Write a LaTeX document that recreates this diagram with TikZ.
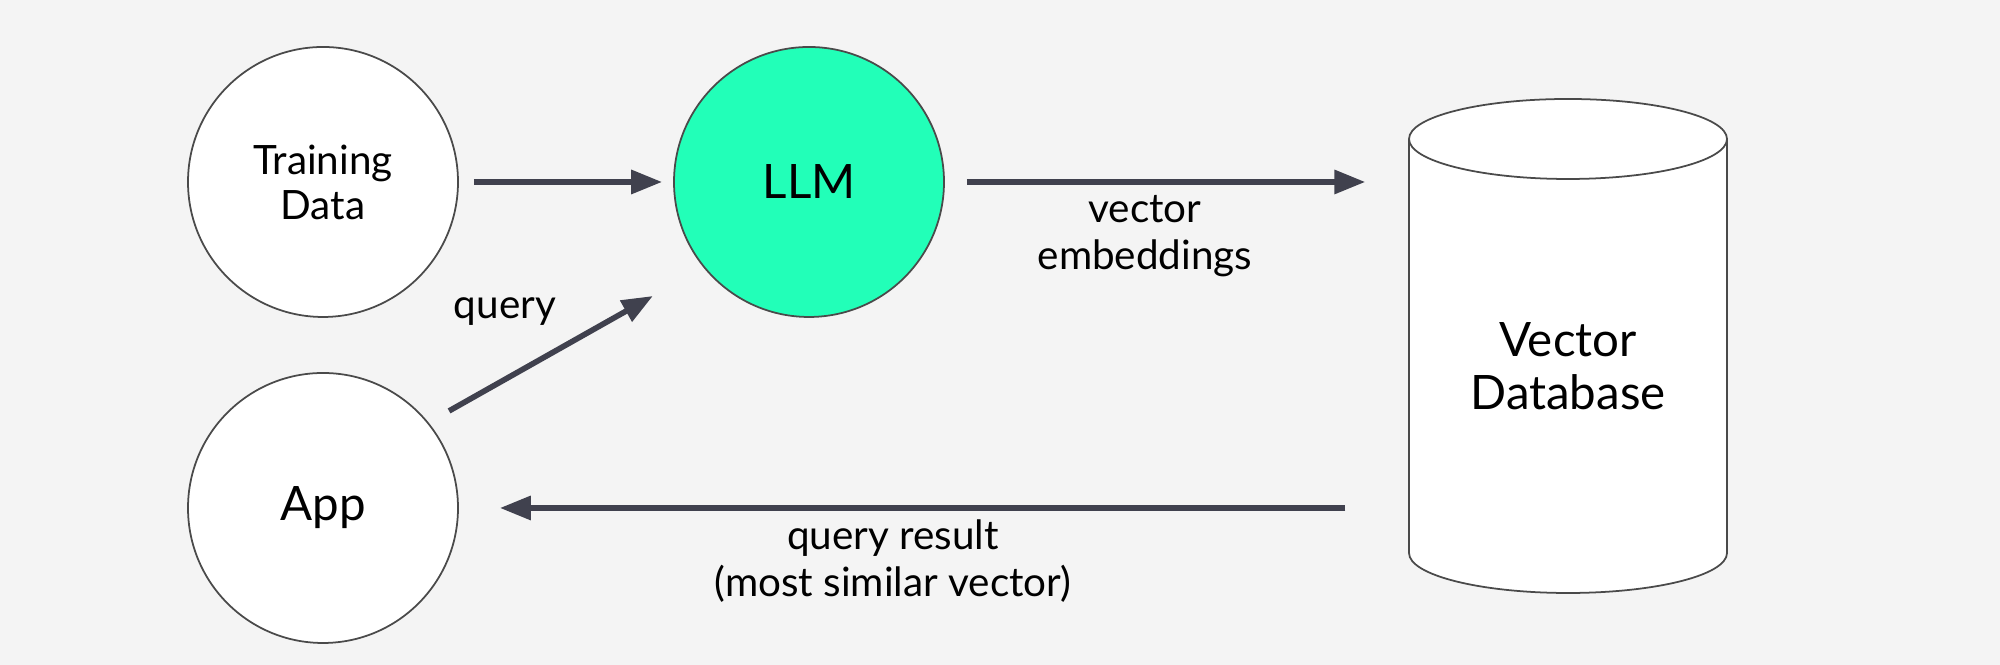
\documentclass[tikz,border=0pt]{standalone}
\usepackage{fontspec}
\setmainfont{Lato}
\usetikzlibrary{arrows.meta}
\definecolor{bgcol}{HTML}{F4F4F4}
\definecolor{llmgreen}{HTML}{22FFB8}
\definecolor{arrowcol}{HTML}{40414E}
\definecolor{edgecol}{HTML}{4A4A4A}
\begin{document}
\begin{tikzpicture}[
    bubble/.style={circle, draw=edgecol, line width=0.5pt, fill=white, minimum size=2.7cm, inner sep=0pt, align=center},
    flow/.style={-{Triangle[length=8.8pt,width=6.6pt]}, line width=1.6pt, draw=arrowcol},
    lbl/.style={font=\fontsize{11.5}{13.4}\selectfont, align=center}
]
    % background and margins
    \fill[bgcol] (0,0) rectangle (20,6.65);
    \useasboundingbox (0,0) rectangle (20,6.65);

    % circles
    \node[bubble, font=\fontsize{11.5}{12.8}\selectfont] (train) at (3.23,4.83) {Training\\Data};
    \node[bubble, fill=llmgreen, font=\fontsize{13.5}{15}\selectfont] (llm) at (8.09,4.83) {LLM};
    \node[bubble, font=\fontsize{13.5}{15}\selectfont] (app) at (3.23,1.57) {App};

    % cylinder for the database
    \draw[edgecol, line width=0.5pt, fill=white] (14.09,5.26) -- (14.09,1.12)
        arc[start angle=180, end angle=360, x radius=1.59, y radius=0.40] -- (17.27,5.26);
    \draw[edgecol, line width=0.5pt, fill=white] (15.68,5.26) ellipse [x radius=1.59, y radius=0.40];
    \node[minimum width=3.18cm, inner sep=0pt, align=center, font=\fontsize{13.5}{15}\selectfont] (db) at (15.68,2.99) {Vector\\Database};

    % arrows
    \draw[flow, shorten <=0.15cm, shorten >=0.11cm] (train) -- (llm);
    \draw[flow, shorten <=0.22cm, shorten >=0.43cm] (llm.east) -- (llm.east -| db.west);
    \draw[flow, shorten <=0.235cm, shorten >=0.58cm] (app.39) -- (llm.219);
    \draw[flow, shorten <=0.63cm, shorten >=0.41cm] (app.east -| db.west) -- (app.east);

    % labels
    \node[lbl] (embl) at (11.45,4.285) {vector\\embeddings};
    \node[lbl] (qryl) at (5.05,3.53) {query};
    \node[lbl] (resl) at (8.93,1.04) {query result\\(most similar vector)};
\end{tikzpicture}
\end{document}
